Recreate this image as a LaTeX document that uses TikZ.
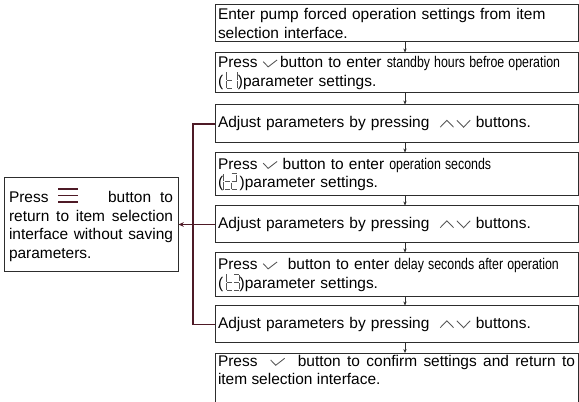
\documentclass[tikz,border=0pt]{standalone}
\usepackage{fontspec}
\setmainfont{Liberation Sans}
\usepackage{graphicx}
\usetikzlibrary{arrows.meta}
\definecolor{edge}{RGB}{45,45,45}
\definecolor{lnk}{RGB}{78,26,38}
\definecolor{keyc}{RGB}{85,85,85}
\newcommand\boxfont{\fontsize{11.6}{14}\selectfont\hyphenpenalty=10000\relax}
\tikzset{
  box/.style    ={rectangle,draw=edge,line width=0.75pt,minimum width=272.25pt,inner xsep=2.25pt,inner ysep=1pt,
                  text width=267.75pt,align=left,font=\boxfont},
  sidebox/.style={rectangle,draw=edge,line width=0.75pt,minimum width=130.5pt,inner xsep=3.75pt,inner ysep=1pt,
                  text width=123pt,align=justify,font=\boxfont},
  ar/.style     ={-{Stealth[length=3pt,width=2.5pt]},line width=0.5pt,edge},
  link/.style   ={lnk,line width=0.9pt},
  seg/.style    ={baseline=0pt,x=1pt,y=1pt,line width=0.65pt,line cap=butt,draw=keyc},
}
% key symbols
\newcommand\okkey{\tikz[seg]\draw[keyc] (0,4.5)--(3.8,0.6)--(10.5,5.8);}
\newcommand\updown{\tikz[seg]{\draw[keyc] (0,0.6)--(5,5.8)--(10,0.6); \draw[keyc] (12.5,5.8)--(17.5,0.6)--(22.5,5.8);}}
\newcommand\menukey{\tikz[seg]{\foreach \h in {0.3,5.3,10.3} \draw[lnk,line width=1.2pt] (0,\h)--(15,\h);}}
\newcommand\nar[1]{\scalebox{0.8}[1]{#1}}
% seven segment "t" followed by a digit
\newcommand\tcode[1]{\tikz[seg]{%
  \draw[keyc] (0,-1.5)--(0,4); \draw[keyc] (0,5)--(0,10.5); \draw[keyc] (0.7,4.5)--(4.5,4.5); \draw[keyc] (0.7,-1.5)--(4.5,-1.5);
  \ifcase#1\or
    \draw[keyc] (8.5,-1.5)--(8.5,4); \draw[keyc] (8.5,5)--(8.5,10.5);
  \or
    \draw[keyc] (6,10.5)--(9.8,10.5); \draw[keyc] (9.8,9.8)--(9.8,5.2); \draw[keyc] (6,4.5)--(9.8,4.5);
    \draw[keyc] (6,3.8)--(6,-0.8); \draw[keyc] (6,-1.5)--(9.8,-1.5);
  \or
    \draw[keyc] (6,10.5)--(9.8,10.5); \draw[keyc] (9.8,9.8)--(9.8,5.2); \draw[keyc] (6,4.5)--(9.8,4.5);
    \draw[keyc] (9.8,3.8)--(9.8,-0.8); \draw[keyc] (6,-1.5)--(9.8,-1.5);
  \fi}}

\begin{document}
\begin{tikzpicture}[x=0.75pt,y=-0.75pt]
  \useasboundingbox (0,0) rectangle (579,402);
  % main column
  \node[box,minimum height=27.75pt] (b1) at (396.5,23.5)
    {Enter pump forced operation settings from item\\selection interface.};
  \node[box,minimum height=30pt] (b2) at (396.5,73)
    {Press \okkey\,button to enter \nar{standby hours befroe operation}\\(\,\tcode{1})parameter settings.};
  \node[box,minimum height=28.5pt] (b3) at (396.5,124)
    {Adjust parameters by pressing \ \updown\ buttons.};
  \node[box,minimum height=32.25pt] (b4) at (396.5,174.5)
    {Press \okkey\ button to enter \nar{operation seconds}\\(\tcode{2}\,)parameter settings.};
  \node[box,minimum height=27.75pt] (b5) at (396.5,224.5)
    {Adjust parameters by pressing \ \updown\ buttons.};
  \node[box,minimum height=33pt] (b6) at (396.5,275)
    {Press \okkey\ \ button to enter \nar{delay seconds after operation}\\(\,\tcode{3})parameter settings.};
  \node[box,minimum height=27.75pt] (b7) at (396.5,324.5)
    {Adjust parameters by pressing \ \updown\ buttons.};
  \node[box,align=justify,anchor=north] (b8) at (396.5,353)
    {Press \ \okkey\ \ button to confirm settings and return to\linebreak item selection interface.\rule[-16pt]{0pt}{16pt}};
  % side box
  \node[sidebox,minimum height=70.5pt] (ret) at (91,225)
    {Press \menukey\hspace{1.3em} button to\linebreak return to item selection\linebreak interface without saving\linebreak parameters.};
  % flow arrows
  \coordinate (ax) at (405,0);
  \foreach \a/\b in {b1/b2,b2/b3,b3/b4,b4/b5,b5/b6,b6/b7,b7/b8}
    \draw[ar] (\a.south -| ax) -- (\b.north -| ax);
  % bracket back to the side box
  \coordinate (bx) at (193,0);
  \draw[link] (b3.west) -- (b3.west -| bx) -- (b7.west -| bx) -- (b7.west);
  \draw[link] (b5.west) -- (b5.west -| bx);
  \draw[link,-{Stealth[length=4pt,width=3.5pt]}] (b5.west -| bx) -- (ret.east |- b5.west);
\end{tikzpicture}
\end{document}
